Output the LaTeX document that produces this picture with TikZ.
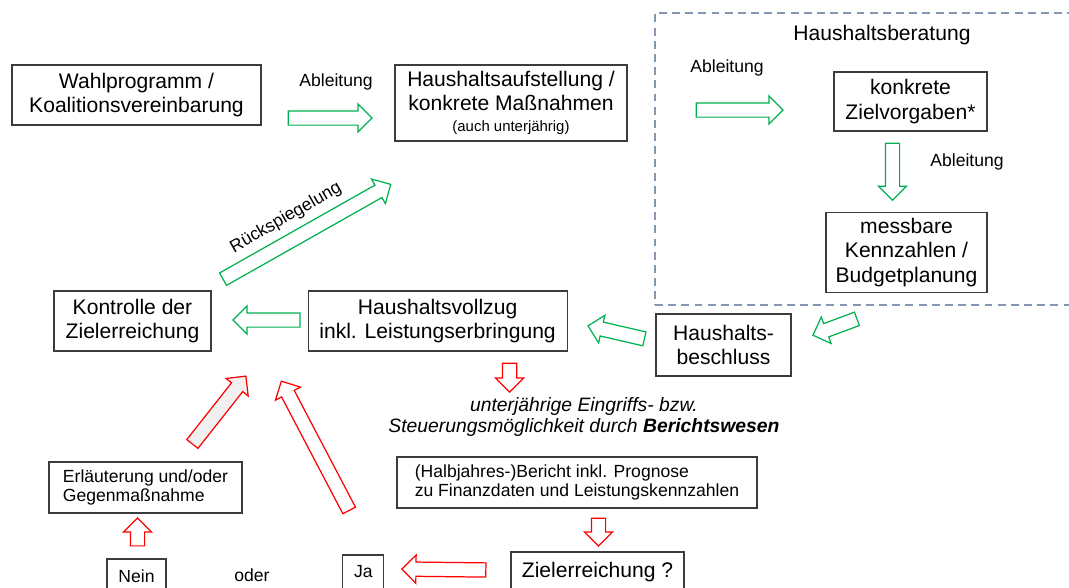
\documentclass[tikz,border=0pt]{standalone}
\usepackage{fontspec}
\setmainfont{Liberation Sans}
\usepackage{xcolor}
\usepackage{tikz}
\usetikzlibrary{shapes,arrows,positioning,calc}

\definecolor{okgreen}{RGB}{0,176,80}
\definecolor{alertred}{RGB}{255,0,0}
\definecolor{dashblue}{RGB}{132,151,176}
\definecolor{boxline}{RGB}{60,60,60}
\definecolor{lightfill}{RGB}{240,240,240}

% hollow block arrow from #2 (tail) to #3 (tip)
\newcommand{\hollowarrow}[3][]{%
  \path let \p1=(#2), \p2=(#3),
    \n1={atan2(\y2-\y1,\x2-\x1)}, \n2={veclen(\x2-\x1,\y2-\y1)} in
    (\p1) node[single arrow, draw, inner xsep=0pt, inner ysep=0.13cm,
      single arrow head extend=0.14cm, anchor=tail, rotate=\n1,
      minimum height=\n2, line width=0.7pt, #1] {};}

\begin{document}
\begin{tikzpicture}[
    box/.style={rectangle, draw=boxline, line width=0.6pt, align=center,
      font=\fontsize{12}{14}\selectfont},
    lbox/.style={box, align=left, font=\fontsize{10}{11}\selectfont},
    lbl/.style={font=\fontsize{10}{12}\selectfont},
    garrow/.style={draw=okgreen},
    rarrow/.style={draw=alertred}
]
\useasboundingbox (0,0) rectangle (21.38,-11.74);

% Haushaltsberatung
\node[draw=dashblue, dash pattern=on 4.5pt off 3pt, line width=0.7pt,
  minimum width=8.40cm, minimum height=5.84cm] (beratung) at (17.30,-3.18) {};
\node[font=\fontsize{12}{14}\selectfont] (beratungtitel) at (17.64,-0.70) {Haushaltsberatung};

\node[box, minimum width=4.98cm, minimum height=1.20cm] (wahl) at (2.73,-1.90)
  {Wahlprogramm /\\Koalitionsvereinbarung};
\node[box, minimum width=4.64cm, minimum height=1.52cm] (aufst) at (10.22,-2.06)
  {Haushaltsaufstellung /\\konkrete Maßnahmen\\[-2pt]{\fontsize{8.5}{10}\selectfont (auch unterjährig)}};
\node[box, minimum width=3.06cm, minimum height=1.18cm] (ziel) at (18.21,-2.03)
  {konkrete\\Zielvorgaben*};
\node[box, minimum width=3.22cm, minimum height=1.54cm] (mess) at (18.13,-5.05)
  {messbare\\Kennzahlen /\\Budgetplanung};
\node[box, minimum width=3.14cm, minimum height=1.20cm] (kontrolle) at (2.65,-6.42)
  {Kontrolle der\\Zielerreichung};
\node[box, minimum width=5.18cm, minimum height=1.20cm, right=1.92cm of kontrolle] (vollzug)
  {Haushaltsvollzug\\inkl. Leistungserbringung};
\node[box, minimum width=2.70cm, minimum height=1.24cm] (beschluss) at (14.47,-6.90)
  {Haushalts-\\beschluss};
\node[align=center, font=\fontsize{11}{12.5}\selectfont\itshape] (info) at (11.68,-8.34)
  {unterjährige Eingriffs- bzw.\\Steuerungsmöglichkeit durch \textbf{Berichtswesen}};
\node[lbox, minimum width=7.20cm, minimum height=1.02cm] (bericht) at (11.54,-9.65)
  {(Halbjahres-)Bericht inkl. Prognose\\zu Finanzdaten und Leistungskennzahlen};
\node[box, minimum width=3.46cm, minimum height=0.80cm] (frage) at (11.95,-11.44)
  {Zielerreichung ?};
\node[box, font=\fontsize{10}{12}\selectfont, minimum width=0.82cm, minimum height=0.68cm,
  left=2.52cm of frage] (ja) {Ja};
\node[box, font=\fontsize{10}{12}\selectfont, minimum width=1.18cm, minimum height=0.68cm] (nein)
  at (2.73,-11.52) {Nein};
\node[lbl] (oder) at (5.04,-11.50) {oder};
\node[lbox, minimum width=3.86cm, minimum height=1.02cm] (erl) at (2.91,-9.75)
  {Erläuterung und/oder\\Gegenmaßnahme};

% labels
\node[lbl] (abl1) at (6.72,-1.64) {Ableitung};
\node[lbl] (abl2) at (14.54,-1.36) {Ableitung};
\node[lbl] (abl3) at (19.34,-3.24) {Ableitung};
\node[lbl, rotate=30] (rueck) at (5.72,-4.36) {Rückspiegelung};

% green arrows
\hollowarrow[garrow]{$(wahl.east)+(0.52,-0.46)$}{$(aufst.west)+(-0.46,-0.30)$}
\hollowarrow[garrow]{$(aufst.east)+(1.36,-0.14)$}{$(ziel.west)+(-1.02,-0.17)$}
\hollowarrow[garrow]{$(ziel.south)+(-0.36,-0.22)$}{$(mess.north)+(-0.28,0.24)$}
\hollowarrow[garrow]{$(beratung.south)+(-0.15,-0.26)$}{$(beschluss.east)+(0.44,0.20)$}
\hollowarrow[garrow]{$(beschluss.west)+(-0.21,0.12)$}{$(vollzug.east)+(0.42,-0.10)$}
\hollowarrow[garrow]{$(vollzug.west)+(-0.14,0.02)$}{$(kontrolle.east)+(0.44,0.02)$}
\hollowarrow[garrow]{$(kontrolle.north east)+(0.22,0.22)$}{$(aufst.south west)+(-0.08,-0.86)$}

% red arrows
\hollowarrow[rarrow]{$(vollzug.south)+(1.44,-0.22)$}{$(vollzug.south)+(1.44,-0.80)$}
\hollowarrow[rarrow]{$(bericht.south)+(0.43,-0.18)$}{$(frage.north)+(0.02,0.12)$}
\hollowarrow[rarrow]{$(frage.west)+(-0.48,0.04)$}{$(ja.east)+(0.36,0.06)$}
\hollowarrow[rarrow]{$(nein.north)+(0.02,0.24)$}{$(erl.south)+(-0.16,-0.10)$}
\hollowarrow[rarrow, fill=lightfill]{$(erl.north)+(0.93,0.34)$}{$(kontrolle.south east)+(0.68,-0.50)$}
\hollowarrow[rarrow]{$(ja.north)+(-0.28,0.87)$}{$(kontrolle.south east)+(1.40,-0.60)$}
\end{tikzpicture}
\end{document}
